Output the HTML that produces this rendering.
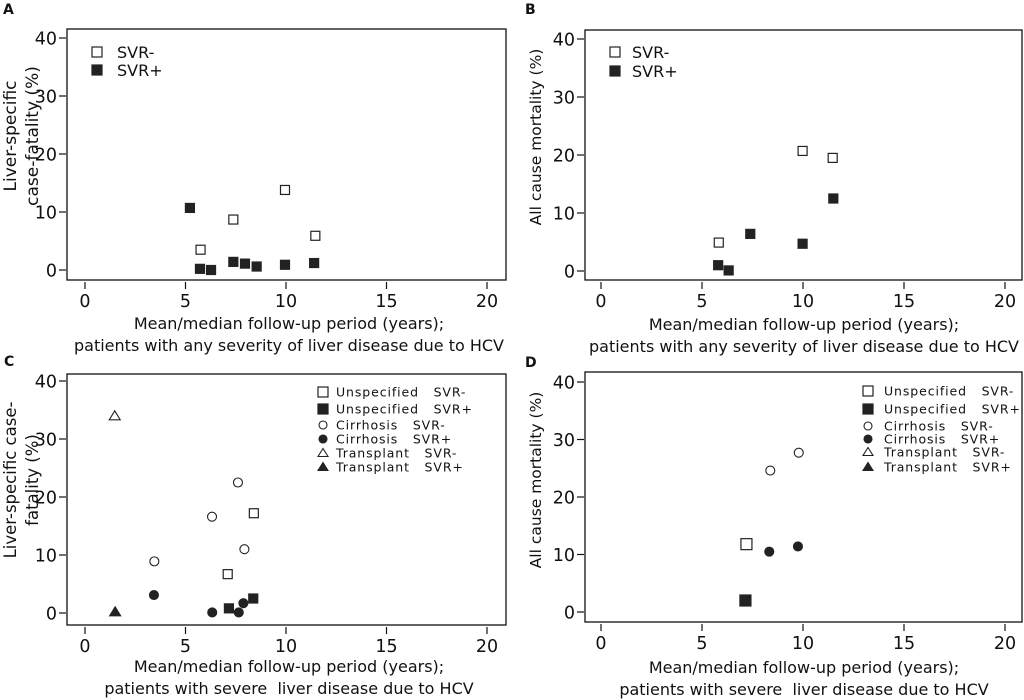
<!DOCTYPE html>
<html><head><meta charset="utf-8"><style>
html,body{margin:0;padding:0;background:#fff;}
svg{display:block;font-family:"DejaVu Sans","Liberation Sans",sans-serif;}
.pre{white-space:pre;}
</style></head><body>
<svg id="fig" width="1024" height="700" viewBox="0 0 1024 700" xmlns="http://www.w3.org/2000/svg"></svg>
<script>
// X tick labels and Y tick labels
const xTicks = [0, 5, 10, 15, 20];
const yTicks = [0, 10, 20, 30, 40];
// Panel A: liver-specific case fatality, any severity
const aSvrMinusX = [5.75, 7.38, 9.95, 11.46];
const aSvrMinusY = [3.5, 8.7, 13.8, 5.9];
const aSvrPlusX = [5.22, 5.72, 6.27, 7.38, 7.96, 8.54, 9.95, 11.4];
const aSvrPlusY = [10.7, 0.2, 0.0, 1.4, 1.1, 0.6, 0.9, 1.2];
// Panel B: all cause mortality, any severity
const bSvrMinusX = [5.83, 9.98, 11.47];
const bSvrMinusY = [4.9, 20.7, 19.5];
const bSvrPlusX = [5.8, 6.32, 7.39, 9.98, 11.5];
const bSvrPlusY = [1.0, 0.1, 6.4, 4.7, 12.5];
// Panel C: liver-specific case fatality, severe
const cUnspecMinusX = [7.1, 8.4];
const cUnspecMinusY = [6.7, 17.2];
const cUnspecPlusX = [7.16, 8.37];
const cUnspecPlusY = [0.8, 2.5];
const cCirrMinusX = [3.45, 6.32, 7.61, 7.93];
const cCirrMinusY = [8.9, 16.6, 22.5, 11.0];
const cCirrPlusX = [3.43, 6.33, 7.65, 7.88];
const cCirrPlusY = [3.1, 0.1, 0.1, 1.7];
const cTransMinusX = [1.48];
const cTransMinusY = [34.0];
const cTransPlusX = [1.5];
const cTransPlusY = [0.2];
// Panel D: all cause mortality, severe
const dUnspecMinusX = [7.2];
const dUnspecMinusY = [11.8];
const dUnspecPlusX = [7.15];
const dUnspecPlusY = [2.0];
const dCirrMinusX = [8.38, 9.79];
const dCirrMinusY = [24.6, 27.7];
const dCirrPlusX = [8.33, 9.75];
const dCirrPlusY = [10.5, 11.4];

const NS = "http://www.w3.org/2000/svg";
const svg = document.getElementById('fig');
function mk(tag, attrs, parent, text){
  const e = document.createElementNS(NS, tag);
  for (const k in attrs) e.setAttribute(k, attrs[k]);
  if (text !== undefined) e.textContent = text;
  (parent || svg).appendChild(e);
  return e;
}
function marker(g, shape, filled, cx, cy, s){
  const fill = filled ? '#222' : '#fff';
  let e;
  if (shape === 'sq') e = mk('rect', {x:cx-s/2, y:cy-s/2, width:s, height:s, fill:fill, stroke:'#222', 'stroke-width':1.2}, g);
  else if (shape === 'ci') e = mk('circle', {cx:cx, cy:cy, r:s/2, fill:fill, stroke:'#222', 'stroke-width':1.1}, g);
  else e = mk('polygon', {points:`${cx},${cy-s/2} ${cx-s/2-0.5},${cy+s/2-1} ${cx+s/2+0.5},${cy+s/2-1}`, fill:fill, stroke:'#222', 'stroke-width':1.1}, g);
  return e;
}

function panel(p){
  const g = mk('g', {});
  
  
  const sx = v => p.x0 + (p.x20 - p.x0) * v / 20;
  const sy = v => p.y0 - (p.y0 - p.y40) * v / 40;
  const lab = mk('text', {x:p.lx, y:p.ly, 'font-size':14, 'font-weight':'bold', fill:'#111'}, g, p.id);
  
  
  const box = mk('rect', {x:p.bx, y:p.by, width:p.bw, height:p.bh, fill:'none', stroke:'#111', 'stroke-width':1.3}, g);
  
  
  const xg = mk('g', {}, g);
  
  
  xTicks.forEach(t => {
    mk('line', {x1:sx(t), x2:sx(t), y1:p.by+p.bh+2, y2:p.by+p.bh+9, stroke:'#111', 'stroke-width':1.2}, xg);
    const tl = mk('text', {x:sx(t), y:p.by+p.bh+27, 'font-size':17.5, 'text-anchor':'middle', fill:'#111'}, xg, String(t));
    
    
  });
  const yg = mk('g', {}, g);
  
  
  yTicks.forEach(t => {
    mk('line', {x1:p.bx-8, x2:p.bx-1, y1:sy(t), y2:sy(t), stroke:'#111', 'stroke-width':1.2}, yg);
    const tl = mk('text', {x:p.bx-10, y:sy(t)+6.5, 'font-size':17.5, 'text-anchor':'end', fill:'#111'}, yg, String(t));
    
    
  });
  const xt = mk('text', {x:p.xtx, y:p.xty, 'font-size':16, 'text-anchor':'middle', fill:'#111'}, g);
  
  
  mk('tspan', {x:p.xtx, dy:0}, xt, 'Mean/median follow-up period (years);');
  mk('tspan', {x:p.xtx, dy:22, class:'pre'}, xt, p.xline2);
  const yt = mk('text', {transform:`translate(${p.ytx},${p.yty}) rotate(-90)`, 'font-size':p.yfs, 'text-anchor':'middle', fill:'#111'}, g);
  
  
  p.ylines.forEach((l, i) => mk('tspan', {x:0, dy: i === 0 ? 0 : 22}, yt, l));
  p.series.forEach(s => {
    const sg = mk('g', {}, g);
    
    
    s.xs.forEach((v, i) => {
      const m = marker(sg, s.shape, s.filled, sx(v), sy(s.ys[i]), s.size);
      
      
    });
  });
  const lg = mk('g', {}, g);
  
  
  p.legend.forEach((it, i) => {
    const y = p.legY[i];
    const eg = mk('g', {}, lg);
    
    
    marker(eg, it.shape, it.filled, p.legMx, y, it.size);
    mk('text', {x:p.legTx, y:y+p.legDy, 'font-size':p.legFs, 'letter-spacing':p.legLs, fill:'#111', class:'pre'}, eg, it.label);
  });
}

const smallLeg = [
  {shape:'sq', filled:false, size:10, label:'Unspecified   SVR-'},
  {shape:'sq', filled:true, size:10, label:'Unspecified   SVR+'},
  {shape:'ci', filled:false, size:8, label:'Cirrhosis   SVR-'},
  {shape:'ci', filled:true, size:8, label:'Cirrhosis   SVR+'},
  {shape:'tr', filled:false, size:9, label:'Transplant   SVR-'},
  {shape:'tr', filled:true, size:9, label:'Transplant   SVR+'}
];

panel({id:'A', lx:3, ly:14, bx:67, by:29, bw:439, bh:251, x0:85, x20:487, y0:270, y40:38,
  xtx:289, xty:329, xline2:'patients with any severity of liver disease due to HCV',
  ytx:16, yty:136, yfs:17, ylines:['Liver-specific','case-fatality (%)'],
  series:[
    {name:'svr-minus', shape:'sq', filled:false, size:9, xs:aSvrMinusX, ys:aSvrMinusY},
    {name:'svr-plus', shape:'sq', filled:true, size:9, xs:aSvrPlusX, ys:aSvrPlusY}],
  legend:[{shape:'sq', filled:false, size:10, label:'SVR-'},{shape:'sq', filled:true, size:10, label:'SVR+'}],
  legY:[52,70], legMx:97, legTx:117, legDy:6, legFs:16, legLs:0});
panel({id:'B', lx:525, ly:14, bx:585, by:30, bw:437, bh:250, x0:601, x20:1005, y0:271, y40:39,
  xtx:804, xty:330, xline2:'patients with any severity of liver disease due to HCV',
  ytx:541, yty:137, yfs:15.5, ylines:['All cause mortality (%)'],
  series:[
    {name:'svr-minus', shape:'sq', filled:false, size:9, xs:bSvrMinusX, ys:bSvrMinusY},
    {name:'svr-plus', shape:'sq', filled:true, size:9, xs:bSvrPlusX, ys:bSvrPlusY}],
  legend:[{shape:'sq', filled:false, size:10, label:'SVR-'},{shape:'sq', filled:true, size:10, label:'SVR+'}],
  legY:[52,71], legMx:615, legTx:632, legDy:6, legFs:16, legLs:0});
panel({id:'C', lx:4, ly:366, bx:67, by:374, bw:439, bh:251, x0:85, x20:487, y0:613, y40:381,
  xtx:289, xty:672, xline2:'patients with severe  liver disease due to HCV',
  ytx:16, yty:480, yfs:16.5, ylines:['Liver-specific case-','fatality (%)'],
  series:[
    {name:'unspecified-svr-minus', shape:'sq', filled:false, size:9, xs:cUnspecMinusX, ys:cUnspecMinusY},
    {name:'unspecified-svr-plus', shape:'sq', filled:true, size:9, xs:cUnspecPlusX, ys:cUnspecPlusY},
    {name:'cirrhosis-svr-minus', shape:'ci', filled:false, size:9, xs:cCirrMinusX, ys:cCirrMinusY},
    {name:'cirrhosis-svr-plus', shape:'ci', filled:true, size:9, xs:cCirrPlusX, ys:cCirrPlusY},
    {name:'transplant-svr-minus', shape:'tr', filled:false, size:10, xs:cTransMinusX, ys:cTransMinusY},
    {name:'transplant-svr-plus', shape:'tr', filled:true, size:10, xs:cTransPlusX, ys:cTransPlusY}],
  legend:smallLeg, legY:[392,409,425,439,453,467], legMx:323, legTx:336, legDy:4.5, legFs:12.5, legLs:0.9});
panel({id:'D', lx:525, ly:367, bx:585, by:372, bw:437, bh:250, x0:601, x20:1005, y0:612, y40:382,
  xtx:804, xty:673, xline2:'patients with severe  liver disease due to HCV',
  ytx:541, yty:480, yfs:15.5, ylines:['All cause mortality (%)'],
  series:[
    {name:'unspecified-svr-minus', shape:'sq', filled:false, size:11, xs:dUnspecMinusX, ys:dUnspecMinusY},
    {name:'unspecified-svr-plus', shape:'sq', filled:true, size:11, xs:dUnspecPlusX, ys:dUnspecPlusY},
    {name:'cirrhosis-svr-minus', shape:'ci', filled:false, size:9, xs:dCirrMinusX, ys:dCirrMinusY},
    {name:'cirrhosis-svr-plus', shape:'ci', filled:true, size:9, xs:dCirrPlusX, ys:dCirrPlusY}],
  legend:smallLeg, legY:[391,409,426,439,452,467], legMx:868, legTx:884, legDy:4.5, legFs:12.5, legLs:0.9});
</script>
</body></html>
